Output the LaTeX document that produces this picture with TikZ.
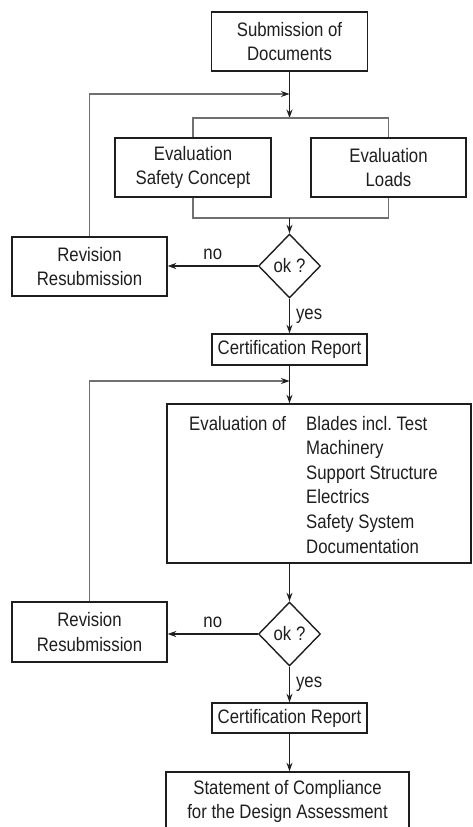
\documentclass[tikz,border=0pt]{standalone}
\usepackage{fontspec}
\setmainfont[FakeStretch=0.86]{Liberation Sans}
\usetikzlibrary{arrows.meta,shapes.geometric}
\frenchspacing

\definecolor{ink}{HTML}{1E1E1E}
\definecolor{wire}{HTML}{707070}
\newcommand{\labelfont}{\fontsize{19.5}{24.6}\selectfont}

\tikzset{
  box/.style={draw=ink, line width=1.4pt, inner sep=0pt, align=center,
    font=\labelfont, text=ink},
  decision/.style={diamond, draw=ink, line width=1.4pt, inner sep=0pt,
    minimum width=62pt, minimum height=64pt, font=\labelfont, text=ink},
  plain/.style={inner sep=0pt, font=\labelfont, text=ink},
  flow/.style={draw=ink, line width=1.1pt, -{Stealth[length=8.5pt,width=6pt]}},
  back/.style={draw=wire, line width=1.1pt,
    -{Stealth[length=8.5pt,width=6pt,color=ink]}},
  branch/.style={draw=wire, line width=1.1pt}
}

\begin{document}
\begin{tikzpicture}[x=1pt, y=-1pt]
\useasboundingbox (0,0) rectangle (472,827);
\clip (0,0) rectangle (472,827);

% first evaluation stage
\node[box, minimum width=156pt, minimum height=59pt] (sub) at (289.5,41.5)
  {Submission of\\Documents};
\coordinate (j1) at (289.5,94);
\coordinate (brT) at (289.5,118);
\node[box, minimum width=156pt, minimum height=59pt] (evs) at (193,167.5)
  {Evaluation\\Safety Concept};
\node[box, minimum width=155pt, minimum height=59pt] (evl) at (388.5,167.5)
  {Evaluation\\Loads};
\coordinate (brB) at (289.5,218);
\node[decision] (ok1) at (289.5,266) {ok ?};
\node[box, minimum width=155pt, minimum height=59pt] (rev1) at (89.5,266.5)
  {Revision\\Resubmission};
\node[box, minimum width=155pt, minimum height=31pt] (cert1) at (289.5,349.5)
  {Certification Report};

% second evaluation stage: the list of evaluated components
\coordinate (j2) at (289.5,381);
\node[box, minimum width=304pt, minimum height=159pt] (big) at (319,483.5) {};
\node[plain, anchor=base west] (evof) at (189,430) {Evaluation of};
\foreach \txt [count=\k from 0] in {Blades incl.\ Test, Machinery,
    Support Structure, Electrics, Safety System, Documentation}
  \node[plain, anchor=base west] (item\k) at (306,430+24.6*\k) {\txt};
\node[decision] (ok2) at (289.5,634) {ok ?};
\node[box, minimum width=155pt, minimum height=60pt] (rev2) at (89.5,632)
  {Revision\\Resubmission};
\node[box, minimum width=155pt, minimum height=30pt] (cert2) at (289.5,718)
  {Certification Report};
\node[box, minimum width=243pt, minimum height=59pt] (final) at (287.5,801.5)
  {Statement of Compliance\\for the Design Assessment};

% connectors, stage one
\draw[flow] (sub.south) -- (brT);
\draw[branch] (evs.north) |- (brT) -| (evl.north);
\draw[branch] (evs.south) |- (brB) -| (evl.south);
\draw[flow] (brB) -- (ok1.north);
\draw[flow] (ok1.west) -- (rev1.east |- ok1.west)
  node[plain, midway, above=6pt] (no1) {no};
\draw[back] (rev1.north) |- (j1);
\draw[flow] (ok1.south) -- (cert1.north)
  node[plain, midway, right=6pt] (yes1) {yes};

% connectors, stage two
\draw[flow] (cert1.south) -- (cert1.south |- big.north);
\draw[back] (rev2.north) |- (j2);
\draw[flow] (ok2.north |- big.south) -- (ok2.north);
\draw[flow] (ok2.west) -- (rev2.east |- ok2.west)
  node[plain, midway, above=6pt] (no2) {no};
\draw[flow] (ok2.south) -- (cert2.north)
  node[plain, midway, right=6pt] (yes2) {yes};
\draw[flow] (cert2.south) -- (cert2.south |- final.north);
\end{tikzpicture}
\end{document}
